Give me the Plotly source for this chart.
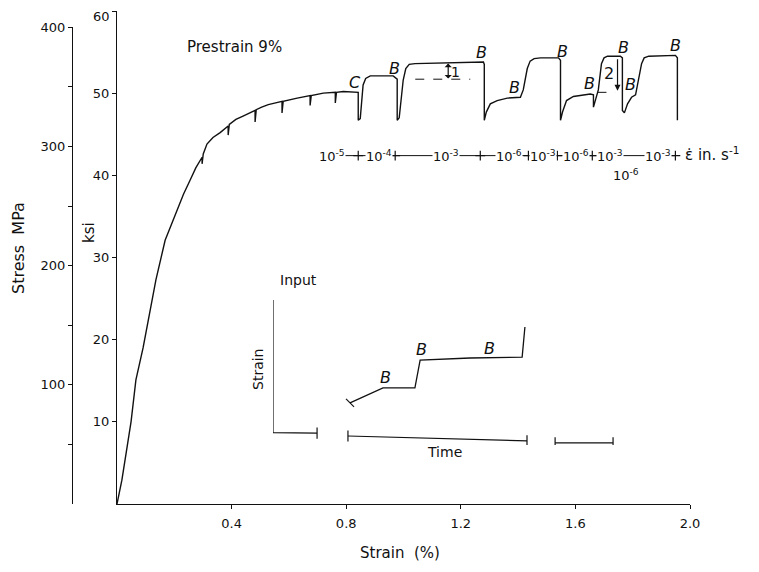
import plotly.graph_objects as go

# ---------------- data ----------------
# main stress-strain record (strain in %, stress in ksi)
strain = [0, 0.017, 0.049, 0.066, 0.091, 0.112, 0.136, 0.168, 0.190, 0.210, 0.232, 0.255, 0.275,
          0.297, 0.297, 0.301, 0.314, 0.335, 0.360, 0.388, 0.388, 0.392, 0.415, 0.440, 0.482,
          0.482, 0.486, 0.505, 0.528, 0.576, 0.576, 0.580, 0.600, 0.629, 0.674, 0.674, 0.678,
          0.700, 0.720, 0.762, 0.762, 0.766, 0.790, 0.842, 0.842,
          0.849, 0.859, 0.868, 0.884, 0.964, 0.971, 0.978, 0.978,
          0.985, 0.999, 1.008, 1.020, 1.040, 1.279, 1.282, 1.282,
          1.289, 1.303, 1.327, 1.362, 1.408, 1.418, 1.432, 1.442, 1.456, 1.478, 1.541, 1.548, 1.548,
          1.555, 1.569, 1.593, 1.652, 1.663, 1.663, 1.680, 1.691, 1.700, 1.712, 1.757, 1.764, 1.764,
          1.771, 1.782, 1.796, 1.810, 1.820, 1.831, 1.840, 1.856, 1.949, 1.956, 1.956]
stress_ksi = [0, 2.9, 10.0, 15.1, 19.0, 22.7, 27.3, 32.1, 34.1, 35.8, 37.7, 39.4, 40.9,
              42.2, 41.4, 42.6, 43.8, 44.6, 45.2, 46.0, 44.9, 46.2, 46.8, 47.2, 47.9,
              46.5, 48.0, 48.3, 48.6, 49.0, 47.6, 49.0, 49.2, 49.4, 49.7, 48.5, 49.7,
              49.9, 50.0, 50.1, 48.8, 50.1, 50.2, 50.1, 46.7,
              46.9, 51.0, 51.8, 52.1, 52.1, 51.9, 51.7, 46.7,
              47.0, 51.6, 53.0, 53.5, 53.6, 53.8, 53.5, 46.7,
              47.7, 48.7, 49.1, 49.4, 49.5, 50.4, 53.0, 53.9, 54.2, 54.3, 54.3, 54.0, 46.7,
              47.7, 49.1, 49.6, 49.9, 49.8, 48.3, 50.4, 53.6, 54.3, 54.5, 54.5, 54.3, 47.9,
              47.6, 48.7, 49.5, 49.8, 51.6, 53.6, 54.3, 54.5, 54.6, 54.3, 46.7]

# strain-rate change points and labels
rate_bounds = [0.842, 0.971, 1.268, 1.436, 1.537, 1.659, 1.949]
rate_label_x = [0.751, 0.915, 1.149, 1.369, 1.488, 1.603, 1.722, 1.890]
rate_labels = ["10<sup>-5</sup>", "10<sup>-4</sup>", "10<sup>-3</sup>", "10<sup>-6</sup>",
               "10<sup>-3</sup>", "10<sup>-6</sup>", "10<sup>-3</sup>", "10<sup>-3</sup>"]

# point labels B / C
b_x = [0.968, 1.272, 1.387, 1.555, 1.649, 1.768, 1.792, 1.949]
b_y = [53.0, 55.0, 50.7, 55.1, 51.2, 55.6, 51.0, 55.8]
c_x, c_y = 0.831, 51.3

# stress increments 1 and 2
inc1_x = [1.041, 1.233]
inc1_y = [51.7, 51.7]
inc2_x = [1.677, 1.740]
inc2_y = [50.1, 50.1]

# inset: input strain vs time (arbitrary units)
inset_t = [22.2, 31.7, 40.9, 42.4, 56.8, 71.8, 72.6]
inset_s = [14.5, 19.7, 19.7, 29.3, 30.0, 30.3, 40.7]
inset_b_t = [32.3, 42.9, 62.5]
inset_b_s = [23.4, 33.1, 33.4]
time_seg_t = [[0, 0, 12.7], [21.6, 73.2], [81.3, 98.0]]
time_seg_s = [[50, 4.3, 4.1], [3.1, 1.4], [0.7, 0.7]]

# axes ticks
strain_ticks = [0.4, 0.8, 1.2, 1.6, 2.0]
strain_ticktext = ["0.4", "0.8", "1.2", "1.6", "2.0"]
ksi_ticks = [10, 20, 30, 40, 50, 60]
ksi_ticktext = ["10", "20", "30", "40", "50", ""]   # top label drawn separately (kept inside page)
mpa_ticks = [50, 100, 150, 200, 250, 300, 350, 400]
mpa_ticktext = ["", "100", "", "200", "", "300", "", "400"]

KSI_TO_MPA = 6.894757
FONT = "DejaVu Sans"
INK = "#111111"
RATE_LEVEL = 42.4


def px(page_x):
    """page pixel x -> paper fraction"""
    return (page_x - 20) / 670


def py(page_y):
    """page pixel y -> paper fraction"""
    return (504 - page_y) / 493


def label(x, y, text, size, xref="x", yref="y", **kw):
    d = dict(x=x, y=y, xref=xref, yref=yref, text=text, showarrow=False,
             xanchor="center", yanchor="middle",
             font=dict(family=FONT, size=size, color=INK))
    d.update(kw)
    return d


# ---------------- figure ----------------
fig = go.Figure()

fig.add_trace(go.Scatter(x=strain, y=stress_ksi, mode="lines",
                         line=dict(color=INK, width=1.4), showlegend=False, hoverinfo="skip"))

# strain-rate line with + markers
rate_line_x = [rate_label_x[0]] + rate_bounds
fig.add_trace(go.Scatter(x=rate_line_x, y=[RATE_LEVEL] * len(rate_line_x), mode="lines",
                         line=dict(color=INK, width=1), showlegend=False, hoverinfo="skip"))
fig.add_trace(go.Scatter(x=rate_bounds, y=[RATE_LEVEL] * len(rate_bounds), mode="markers",
                         marker=dict(symbol="cross-thin-open", size=7, color=INK,
                                     line=dict(color=INK, width=1.2)),
                         showlegend=False, hoverinfo="skip"))

# dashed increments
for xs, ys in [(inc1_x, inc1_y), (inc2_x, inc2_y)]:
    fig.add_trace(go.Scatter(x=xs, y=ys, mode="lines", line=dict(color=INK, width=1, dash="dash"),
                             showlegend=False, hoverinfo="skip"))

# dummy trace for MPa axis
fig.add_trace(go.Scatter(x=[None], y=[None], xaxis="x", yaxis="y2", showlegend=False))

# inset traces
for ts, ss in zip(time_seg_t, time_seg_s):
    fig.add_trace(go.Scatter(x=ts, y=ss, mode="lines", line=dict(color=INK, width=1.2),
                             xaxis="x3", yaxis="y3", showlegend=False, hoverinfo="skip"))
    ends_t = [ts[-1]] + ([ts[0]] if len(ts) == 2 else [])
    ends_s = [ss[-1]] + ([ss[0]] if len(ss) == 2 else [])
    fig.add_trace(go.Scatter(x=ends_t, y=ends_s, mode="markers",
                             marker=dict(symbol="line-ns-open", size=8, color=INK,
                                         line=dict(color=INK, width=1.2)),
                             xaxis="x3", yaxis="y3", showlegend=False, hoverinfo="skip"))
fig.add_trace(go.Scatter(x=inset_t, y=inset_s, mode="lines", line=dict(color=INK, width=1.3),
                         xaxis="x3", yaxis="y3", showlegend=False, hoverinfo="skip"))
fig.add_trace(go.Scatter(x=[inset_t[0]], y=[inset_s[0]], mode="markers",
                         marker=dict(symbol="line-nw-open", size=8, color=INK,
                                     line=dict(color=INK, width=1.2)),
                         xaxis="x3", yaxis="y3", showlegend=False, hoverinfo="skip"))

ann = []
for lx, lt in zip(rate_label_x, rate_labels):
    ann.append(label(lx, RATE_LEVEL, lt, 13, bgcolor="white", borderpad=0))
ann.append(label(1.778, 40.1, "10<sup>-6</sup>", 13))
ann.append(label(px(683), py(154), "\u03b5\u0307 in. s<sup>-1</sup>", 15,
                 xref="paper", yref="paper", xanchor="left"))
for bx, by in zip(b_x, b_y):
    ann.append(label(bx, by, "<i>B</i>", 16))
ann.append(label(c_x, c_y, "<i>C</i>", 16))
# increment arrows
ann.append(dict(x=1.156, y=53.6, ax=1.156, ay=51.6, xref="x", yref="y", axref="x", ayref="y",
                showarrow=True, arrowhead=1, arrowside="end+start", arrowsize=1, arrowwidth=1.2,
                arrowcolor=INK, text=""))
ann.append(label(1.181, 52.6, "1", 14))
ann.append(dict(x=1.747, y=50.3, ax=1.747, ay=54.3, xref="x", yref="y", axref="x", ayref="y",
                showarrow=True, arrowhead=2, arrowsize=1, arrowwidth=1.2, arrowcolor=INK, text=""))
ann.append(label(1.719, 52.4, "2", 16))
# top ksi tick label, kept just inside the page
ann.append(label(px(112), py(16), str(ksi_ticks[-1]), 13, xref="paper", yref="paper",
                 xanchor="right"))
# titles
ann.append(label(0.2376, 55.6, "Prestrain 9%", 15, xanchor="left"))
ann.append(label(px(400), py(553), "Strain  (%)", 15, xref="paper", yref="paper"))
ann.append(label(px(18), py(248), "Stress  MPa", 16, xref="paper", yref="paper", textangle=-90))
ann.append(label(px(89), py(233), "ksi", 15, xref="paper", yref="paper", textangle=-90))
# inset labels
ann.append(label(px(298), py(280), "Input", 14, xref="paper", yref="paper"))
ann.append(label(px(258), py(370), "Strain", 14, xref="paper", yref="paper", textangle=-90))
ann.append(label(px(444), py(452), "Time", 14, xref="paper", yref="paper"))
for bx, by in zip(inset_b_t, inset_b_s):
    ann.append(label(bx, by, "<i>B</i>", 16, xref="x3", yref="y3"))

axis_common = dict(showgrid=False, zeroline=False, showline=True, linecolor=INK, linewidth=1.3,
                   ticks="outside", ticklen=4, tickwidth=1.2, tickcolor=INK, automargin=False,
                   ticklabeloverflow="allow",
                   tickfont=dict(family=FONT, size=13, color=INK))

# The page body adds an 8 px offset, so the figure is 8 px smaller and margins shifted.
fig.update_layout(
    width=751, height=564, autosize=False,
    margin=dict(l=12, r=69, t=3, b=68),
    paper_bgcolor="white", plot_bgcolor="rgba(0,0,0,0)",
    xaxis=dict(domain=[px(117), 1], range=[0, 2], tickvals=strain_ticks,
               ticktext=strain_ticktext, anchor="y", ticklabelstandoff=3, **axis_common),
    yaxis=dict(domain=[0, 1], range=[0, 60], tickvals=ksi_ticks, ticktext=ksi_ticktext,
               anchor="x", **axis_common),
    yaxis2=dict(domain=[0, 400 / (60 * KSI_TO_MPA)], range=[0, 400], tickvals=mpa_ticks,
                ticktext=mpa_ticktext, anchor="free", position=px(72), **axis_common),
    xaxis3=dict(domain=[px(273), px(620)], range=[0, 100], visible=False, anchor="y3"),
    yaxis3=dict(domain=[py(445), py(300)], range=[0, 50], visible=False, anchor="x3"),
    annotations=ann,
)

fig.write_html("out.html")
